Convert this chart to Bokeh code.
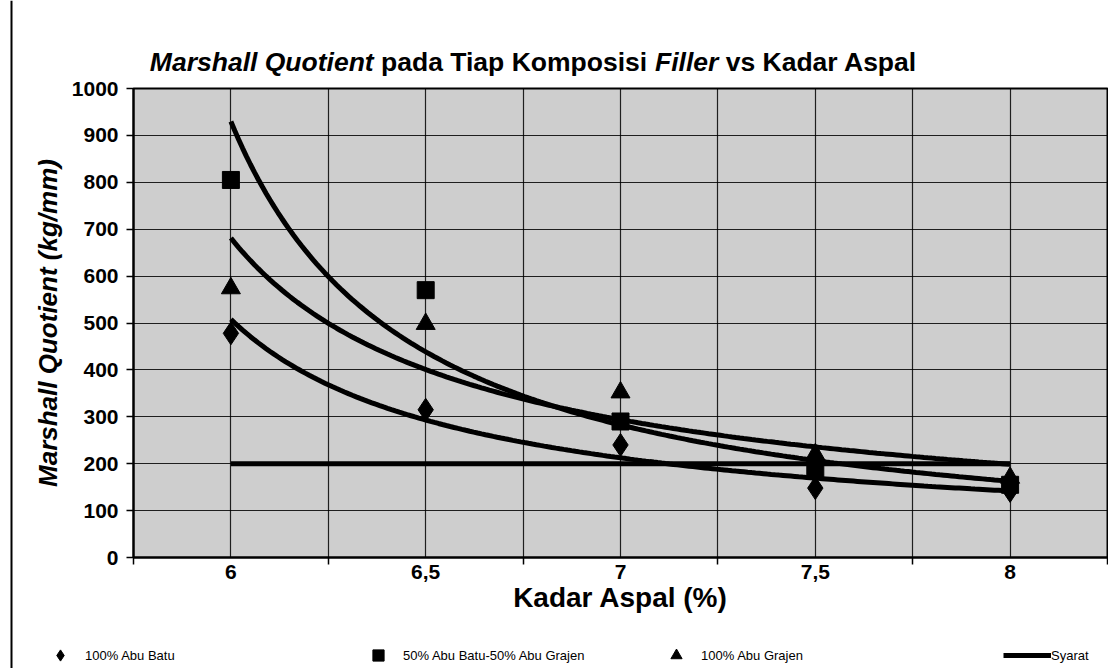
import numpy as np
from bokeh.plotting import figure
from bokeh.layouts import column, row
from bokeh.models import Range1d, FixedTicker, Legend, LegendItem, Label, Span
from bokeh.embed import file_html
from bokeh.resources import INLINE

# ---------------- data ----------------
kadar = [6, 6.5, 7, 7.5, 8]
kadar_labels = ["6", "6,5", "7", "7,5", "8"]
abu_batu = [478, 315, 240, 148, 142]          # 100% Abu Batu (diamond)
campuran = [805, 570, 290, 188, 155]          # 50% Abu Batu-50% Abu Grajen (square)
abu_grajen = [574, 498, 352, 220, 170]        # 100% Abu Grajen (triangle)
syarat = [200, 200, 200, 200, 200]            # Syarat
y_ticks = [0, 100, 200, 300, 400, 500, 600, 700, 800, 900, 1000]

series_names = ["100% Abu Batu", "50% Abu Batu-50% Abu Grajen", "100% Abu Grajen", "Syarat"]

FONT = "Liberation Sans"
STRIP = 14
W = 1108 - STRIP
H_TITLE, H_MAIN, H_LEG = 78, 539, 51
H_ALL = H_TITLE + H_MAIN + H_LEG


def blank_fig(w, h):
    f = figure(width=w, height=h, output_backend="svg", toolbar_location=None,
               x_range=Range1d(0, w), y_range=Range1d(0, h),
               x_axis_type=None, y_axis_type=None, frame_align=False,
               min_border=0, min_border_left=0, min_border_right=0,
               min_border_top=0, min_border_bottom=0)
    f.outline_line_color = None
    f.background_fill_color = "white"
    f.border_fill_color = "white"
    return f


# ---------------- left chart-area border ----------------
strip = blank_fig(STRIP, H_ALL)
strip.add_layout(Span(location=11, location_units="screen", dimension="height",
                      line_color="black", line_width=2))

# ---------------- title ----------------
tf = blank_fig(W, H_TITLE)
title_parts = [("Marshall Quotient", "bold italic"), ("pada Tiap Komposisi", "bold"),
               ("Filler", "bold italic"), ("vs Kadar Aspal", "bold")]
aw = {" ": 278, "A": 722, "F": 611, "K": 722, "M": 833, "Q": 778, "T": 611, "a": 556,
      "d": 611, "e": 556, "h": 611, "i": 278, "l": 278, "m": 889, "n": 611, "o": 611,
      "p": 611, "r": 389, "s": 556, "t": 333, "u": 611, "v": 556}
TS = 26.5
space_w = aw[" "] / 1000 * TS
widths = [sum(aw.get(c, 556) for c in s) / 1000 * TS for s, _ in title_parts]
total = sum(widths) + space_w * (len(widths) - 1)
x0 = 519 - total / 2
for (s, st), w in zip(title_parts, widths):
    tf.add_layout(Label(x=x0, y=17, x_units="screen", y_units="screen", text=s,
                        text_font=FONT, text_font_size=f"{TS}px", text_font_style=st,
                        text_color="black", text_baseline="alphabetic", text_align="left"))
    x0 += w + space_w

# ---------------- main chart ----------------
p = figure(width=W, height=H_MAIN, output_backend="svg", toolbar_location=None,
           x_range=Range1d(5.75, 8.25), y_range=Range1d(0, 1000), frame_align=False,
           min_border_left=133 - STRIP, min_border_right=1,
           min_border_top=10, min_border_bottom=60)

p.background_fill_color = "#cecece"
p.border_fill_color = "white"
p.outline_line_color = "black"
p.outline_line_width = 2

half = (kadar[1] - kadar[0]) / 2
grid_x = list(np.arange(kadar[0] - half, kadar[-1] + half + 1e-9, half))
p.xgrid.ticker = FixedTicker(ticks=grid_x)
p.ygrid.ticker = FixedTicker(ticks=y_ticks)
for g in (p.xgrid, p.ygrid):
    g.grid_line_color = "black"
    g.grid_line_width = 1.2
    g.grid_line_alpha = 0.85

cat_edges = list(np.arange(kadar[0] - half, kadar[-1] + half + 1e-9, 2 * half))
p.xaxis.ticker = FixedTicker(ticks=kadar, minor_ticks=cat_edges)
p.xaxis.major_label_overrides = {k: l for k, l in zip(kadar, kadar_labels)}
p.xaxis.major_tick_out = 0
p.xaxis.major_tick_in = 0
p.xaxis.minor_tick_out = 7
p.xaxis.minor_tick_in = 0
p.xaxis.minor_tick_line_color = "black"
p.xaxis.minor_tick_line_width = 1.5
p.xaxis.major_label_standoff = 0
p.xaxis.axis_label = "Kadar Aspal (%)"
p.xaxis.axis_label_standoff = 0

p.yaxis.ticker = FixedTicker(ticks=y_ticks)
p.yaxis.minor_tick_line_color = None
p.yaxis.major_tick_out = 7
p.yaxis.major_tick_in = 0
p.yaxis.major_label_standoff = 8
p.yaxis.axis_label = "Marshall Quotient (kg/mm)"
p.yaxis.axis_label_standoff = 6

for ax in (p.xaxis, p.yaxis):
    ax.axis_line_color = "black"
    ax.axis_line_width = 2
    ax.major_tick_line_color = "black"
    ax.major_tick_line_width = 1.5
    ax.major_label_text_font = FONT
    ax.major_label_text_font_size = "21px"
    ax.major_label_text_font_style = "bold"
    ax.major_label_text_color = "black"
    ax.axis_label_text_font = FONT
    ax.axis_label_text_color = "black"
p.xaxis.axis_label_text_font_size = "28px"
p.yaxis.axis_label_text_font_size = "26px"
p.xaxis.axis_label_text_font_style = "bold"
p.yaxis.axis_label_text_font_style = "bold italic"

# power trendlines (Excel style, x = category index)
idx = np.arange(1, len(kadar) + 1, dtype=float)
t = np.linspace(1, len(kadar), 200)
xs_dense = kadar[0] + (t - 1) * (kadar[1] - kadar[0])
for ys in (abu_batu, campuran, abu_grajen):
    b, lna = np.polyfit(np.log(idx), np.log(ys), 1)
    p.line(xs_dense, np.exp(lna) * t ** b, line_color="black", line_width=5)

p.line(kadar, syarat, line_color="black", line_width=5)
p.scatter(kadar, abu_batu, marker="diamond", size=23, color="black")
p.scatter(kadar, campuran, marker="square", size=17, color="black")
p.scatter(kadar, abu_grajen, marker="triangle", size=19, color="black")

# ---------------- legend row ----------------
# (proxy renderers hold the series data but lie outside this strip's visible range)
lf = blank_fig(W, H_LEG)
l_dia = lf.scatter(kadar, abu_batu, marker="diamond", color="black")
l_sq = lf.scatter(kadar, campuran, marker="square", color="black")
l_tri = lf.scatter(kadar, abu_grajen, marker="triangle", color="black")
l_line = lf.line(kadar, syarat, line_color="black", line_width=5)

GH = 28
leg_specs = [
    (l_dia, series_names[0], 60 - GH / 2 - STRIP, GH, 11),
    (l_sq, series_names[1], 378 - GH / 2 - STRIP, GH, 11),
    (l_tri, series_names[2], 676 - GH / 2 - STRIP, GH, 11),
    (l_line, series_names[3], 1003 - STRIP, 48, 0),
]
for rend, name, lx, gw, so in leg_specs:
    lg = Legend(items=[LegendItem(label=name, renderers=[rend])],
                location=(lx, -1), orientation="horizontal",
                padding=0, margin=0, spacing=0,
                glyph_width=gw, glyph_height=GH, label_height=GH,
                label_standoff=so, border_line_color=None,
                background_fill_alpha=0,
                label_text_font=FONT, label_text_font_size="13px",
                label_text_color="black")
    lf.add_layout(lg, "center")

layout = row(strip, column(tf, p, lf, spacing=0), spacing=0)
open("out.html", "w").write(file_html(layout, INLINE))
